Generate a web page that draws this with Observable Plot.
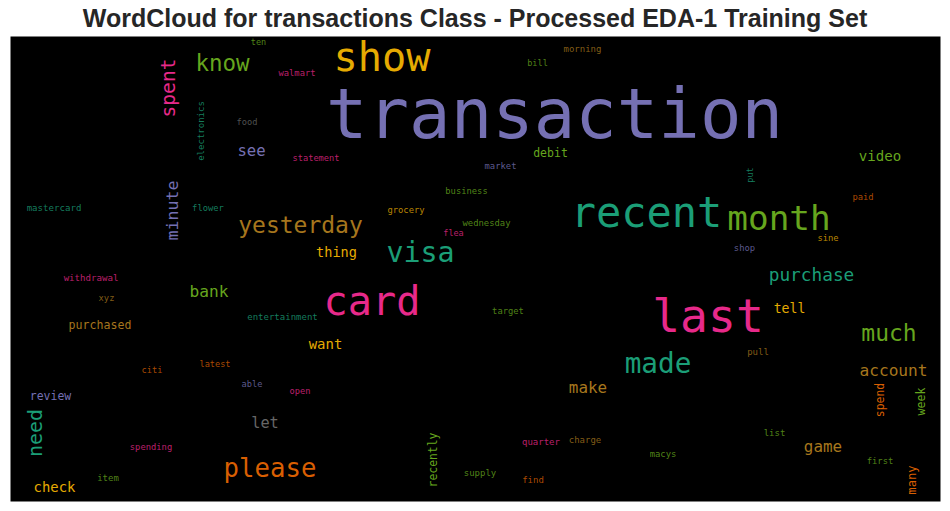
<!DOCTYPE html>
<html>
<head>
<meta charset="utf-8">
<script src="https://cdn.jsdelivr.net/npm/d3@7"></script>
<script src="https://cdn.jsdelivr.net/npm/@observablehq/plot@0.6"></script>
<style>
  html, body { margin: 0; padding: 0; background: #ffffff; }
  #title { height: 30px; box-sizing: border-box; padding-top: 0px; line-height: 36px; text-align: center; overflow: visible;
           font-family: "Liberation Sans", Arial, Helvetica, sans-serif; font-weight: bold; font-size: 25px; color: #262626; white-space: nowrap; }
  #chart svg { display: block; }
</style>
</head>
<body>
<div id="title">WordCloud for transactions Class - Processed EDA-1 Training Set</div>
<div id="chart"></div>
<script>
// Word cloud words
const words = ["transaction","show","know","spent","ten","walmart","morning","bill","food","electronics",
  "see","statement","market","debit","video","put","mastercard","flower","business","grocery",
  "wednesday","flea","paid","yesterday","recent","month","visa","minute","thing","shop",
  "sine","withdrawal","purchase","xyz","bank","card","last","tell","entertainment","target",
  "purchased","much","want","made","latest","pull","citi","account","able","open",
  "review","make","spend","week","need","let","list","recently","quarter","charge",
  "game","spending","macys","first","please","supply","item","find","check","many"];
// layout position of each word (image coordinates: x = centre, y = baseline line)
const wordX = [554,381.5,222,174,258,296.5,582,537,246.5,203,
  251,315.5,500,550,879.5,752,53.5,207.5,466,405.5,
  486,453,862.5,300,646,778.5,420,177,336,744,
  827.5,90.5,811,106,208.5,371.5,707.5,789,282,507.5,
  99.5,888.5,325,657.5,214.5,757.5,151.5,893,251.5,299.5,
  50,587.5,883,924,41.7,264.5,774,436.7,540.5,584.5,
  822.5,150.5,662.5,879.5,269.5,479.5,107.5,532.5,54,915];
const wordY = [137,70,70,87.5,44,75,51.7,65.7,124,130.5,
  155,160,168.3,156,160.7,174.5,210,210,193.7,212.7,
  225,235,199,232,226,229,261.7,210,256,250,
  240.7,280,280,300.7,296.7,314,331.7,312,319,313,
  328.7,340.7,348,372.7,366,354,372.7,375.7,386.7,393.3,
  399,392.7,399.5,401,432.5,427.3,435.7,459.5,444.3,442.7,
  451.7,449,456.7,463.7,476,475,480,482.3,491,479.5];
// font size of each word (relative frequency)
const wordSize = [69,40.3,22.5,19.6,8.5,8.8,9,8.6,8.7,9,
  15.6,8.7,8.9,11.5,14.1,8.5,9.1,8.8,8.8,8.8,
  8.9,8.5,8.8,23,42,34.4,28.3,16.6,13.6,8.9,
  8.8,9.1,17.8,8.8,16.2,40.3,46.4,13.2,9,8.8,
  11.6,23,14,27.7,8.6,9,8.7,16.2,8.7,8.7,
  11.5,15.9,11.4,11.7,20,15.3,9,11.4,9,9,
  15.9,8.8,8.9,8.9,25.7,9,9,9,13.9,12.2];
// orientation: 0 horizontal, 1 vertical
const wordVertical = [0,0,0,1,0,0,0,0,0,1,
  0,0,0,0,0,1,0,0,0,0,
  0,0,0,0,0,0,0,1,0,0,
  0,0,0,0,0,0,0,0,0,0,
  0,0,0,0,0,0,0,0,0,0,
  0,0,1,1,1,0,0,1,0,0,
  0,0,0,0,0,0,0,0,0,1];
// colour group (index into Dark2)
const wordColor = [2,5,4,3,4,3,6,4,7,0,
  2,3,2,4,4,0,0,0,4,5,
  4,3,1,6,0,4,0,2,5,2,
  5,3,0,6,4,3,3,5,0,4,
  6,4,5,0,1,6,1,6,2,3,
  2,6,1,4,0,7,4,4,3,6,
  6,3,4,4,1,4,4,1,5,1];

const data = words.map((w, i) => ({
  word: w, x: wordX[i], y: wordY[i], size: wordSize[i],
  rotate: wordVertical[i] ? -90 : 0, group: wordColor[i]
}));

const chart = Plot.plot({
  width: 950,
  height: 481,
  marginLeft: 10, marginRight: 10, marginTop: 6, marginBottom: 10,
  x: {domain: [10, 940], axis: null},
  y: {domain: [36, 501], reverse: true, axis: null},
  color: {type: "ordinal", domain: d3.range(8), range: d3.schemeDark2},
  style: {background: "#ffffff", overflow: "visible"},
  marks: [
    Plot.frame({fill: "#000000", stroke: null}),
    Plot.text(data, {
      x: "x", y: "y", text: "word", fontSize: "size", rotate: "rotate",
      fill: "group", lineAnchor: "bottom", textAnchor: "middle",
      fontFamily: "DejaVu Sans Mono", fillOpacity: d => d.size < 10 ? 0.8 : 1
    })
  ]
});
document.getElementById("chart").appendChild(chart);
</script>
</body>
</html>
